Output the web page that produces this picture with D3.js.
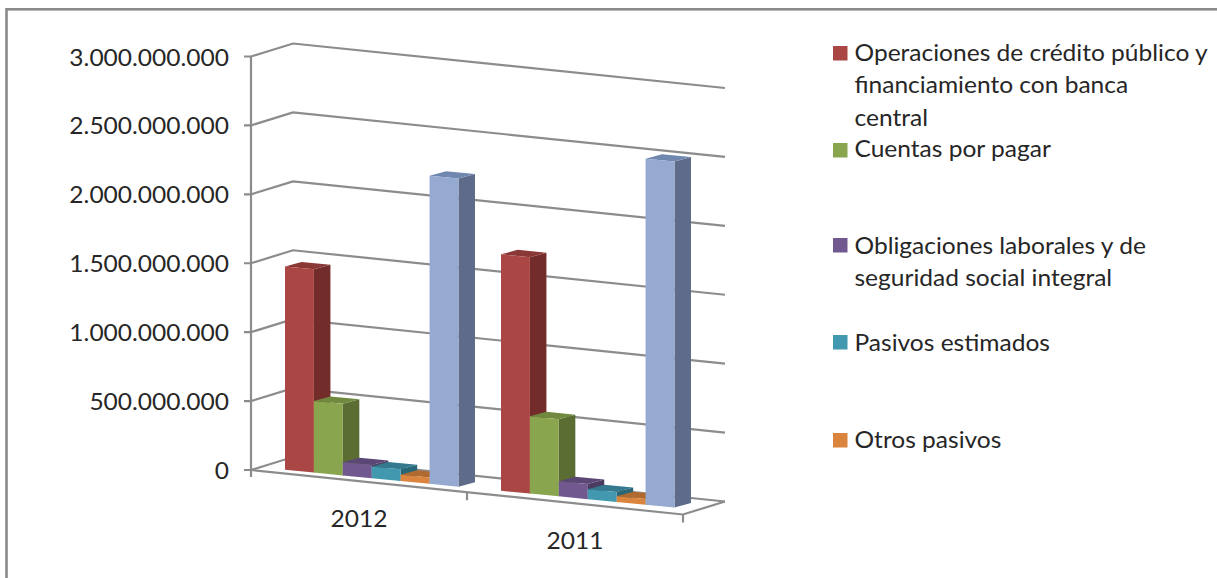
<!DOCTYPE html>
<html><head><meta charset="utf-8">
<style>html,body{margin:0;padding:0;background:#fff}svg{display:block}text{font-family:Lato,"Open Sans",sans-serif;fill:#262626}</style>
<script src="https://cdnjs.cloudflare.com/ajax/libs/d3/7.8.5/d3.min.js"></script>
</head><body><svg id="c" width="1217" height="578"></svg>
<script>
const categories = ["2012", "2011"];
const seriesNames = ["Operaciones de crédito público y financiamiento con banca central", "Cuentas por pagar", "Obligaciones laborales y de seguridad social integral", "Pasivos estimados", "Otros pasivos", ""];
const values2012 = [1475000000, 520000000, 95000000, 85000000, 45000000, 2235000000];
const values2011 = [1715000000, 560000000, 110000000, 72000000, 42000000, 2510000000];
const yTicks = [0, 500000000, 1000000000, 1500000000, 2000000000, 2500000000, 3000000000];
const tickLabels = ["0", "500.000.000", "1.000.000.000", "1.500.000.000", "2.000.000.000", "2.500.000.000", "3.000.000.000"];
const legendLines = [["Operaciones de crédito público y", "financiamiento con banca", "central"], ["Cuentas por pagar"], ["Obligaciones laborales y de", "seguridad social integral"], ["Pasivos estimados"], ["Otros pasivos"]];
const frontColors = ["#AA4643", "#89A54E", "#71588F", "#4198AF", "#DB843D", "#95A9D1"];
const sideColors = ["#722C2A", "#5C6D33", "#4C3B61", "#2A6776", "#93592A", "#5E6C8A"];
const topColors = ["#8A3835", "#6F8A3E", "#5B4775", "#34798D", "#B06A2F", "#7088B0"];

const svg = d3.select("#c");
const grey = "#8C8C8C";
const y = d3.scaleLinear().domain([0, 3000000000]).range([470, 56.5]);
const x0 = d3.scaleBand().domain(categories).range([251, 683]);
const x1 = d3.scaleBand().domain(d3.range(6)).range([34, 207.5]);
const slope = 0.103, backDx = 42, backDy = -13;
const barSlope = 0.097, barRef = [285, 469.8], depthDx = 16.5, depthDy = -4.5;
const textStretch = 1.09;

// The reference's type is horizontally stretched: keep real text, widen its run.
function stretch(sel) {
  sel.each(function () {
    const w = this.getComputedTextLength();
    d3.select(this).attr("textLength", w * textStretch).attr("lengthAdjust", "spacingAndGlyphs");
  });
  return sel;
}

svg.append("rect").attr("x", 6.5).attr("y", 9.3).attr("width", 1230).attr("height", 600)
  .attr("fill", "#fff").attr("stroke", "#8A8A8A").attr("stroke-width", 2.6);

// walls: gridlines on the side wall and the back wall
const gl = svg.append("g").attr("fill", "none").attr("stroke", grey).attr("stroke-width", 2.2);
yTicks.forEach(t => {
  const v = y(t);
  gl.append("path").attr("d", d3.line()([[244, v], [251, v], [251 + backDx, v + backDy], [725, v + backDy + 432 * slope]]));
});
// axis lines and floor
gl.append("path").attr("d", d3.line()([[251, y(3000000000)], [251, y(0) + 7]]));
gl.append("path").attr("d", d3.line()([[251, y(0)], [683, y(0) + 432 * slope], [725, y(0) + backDy + 432 * slope]]));
categories.forEach(c => {
  const tx = x0(c) + x0.bandwidth();
  const ty = y(0) + (tx - 251) * slope;
  gl.append("path").attr("d", d3.line()([[tx, ty], [tx, ty + 8]]));
});

// tick labels
svg.append("g").selectAll("text").data(yTicks).join("text")
  .attr("x", 229).attr("y", d => y(d) + 9).attr("text-anchor", "end")
  .attr("font-size", 22.5).text((d, i) => tickLabels[i]).call(stretch);

// category labels
svg.append("g").selectAll("text").data(categories).join("text")
  .attr("x", d => x0(d) + x0.bandwidth() / 2)
  .attr("y", d => 527 + (x0(d) - 251) * 0.1)
  .attr("text-anchor", "middle").attr("font-size", 22.5).text(d => d).call(stretch);

// 3D bars
const base = px => barRef[1] + (px - barRef[0]) * barSlope;
const poly = pts => d3.line()(pts) + "Z";
[values2012, values2011].forEach((vals, ci) => {
  const g = svg.append("g");
  vals.forEach((v, i) => {
    const xl = x0(categories[ci]) + x1(i);
    const xr = xl + x1.bandwidth();
    const h = y(0) - y(v);
    const bl = base(xl), br = base(xr);
    const fl = [xl, bl - h], fr = [xr, br - h];
    const fr0 = [xr, br];
    g.append("path").attr("fill", sideColors[i])
      .attr("d", poly([fr, [xr + depthDx, br - h + depthDy], [xr + depthDx, br + depthDy], fr0]));
    g.append("path").attr("fill", topColors[i])
      .attr("d", poly([fl, [xl + depthDx, bl - h + depthDy], [xr + depthDx, br - h + depthDy], fr]));
    g.append("path").attr("fill", frontColors[i])
      .attr("d", poly([fl, fr, fr0, [xl, bl]]));
  });
});

// legend
const legendSwatchY = [46, 143, 238, 335, 433];
const legendFirstBase = [61, 157, 254, 351, 448];
const lg = svg.append("g");
legendLines.forEach((lines, i) => {
  lg.append("rect").attr("x", 833).attr("y", legendSwatchY[i]).attr("width", 14.5).attr("height", 14.5).attr("fill", frontColors[i]);
  lines.forEach((s, j) => {
    lg.append("text").attr("x", 854.5).attr("y", legendFirstBase[i] + j * 32.3).attr("font-size", 22.5).text(s).call(stretch);
  });
});
</script></body></html>
